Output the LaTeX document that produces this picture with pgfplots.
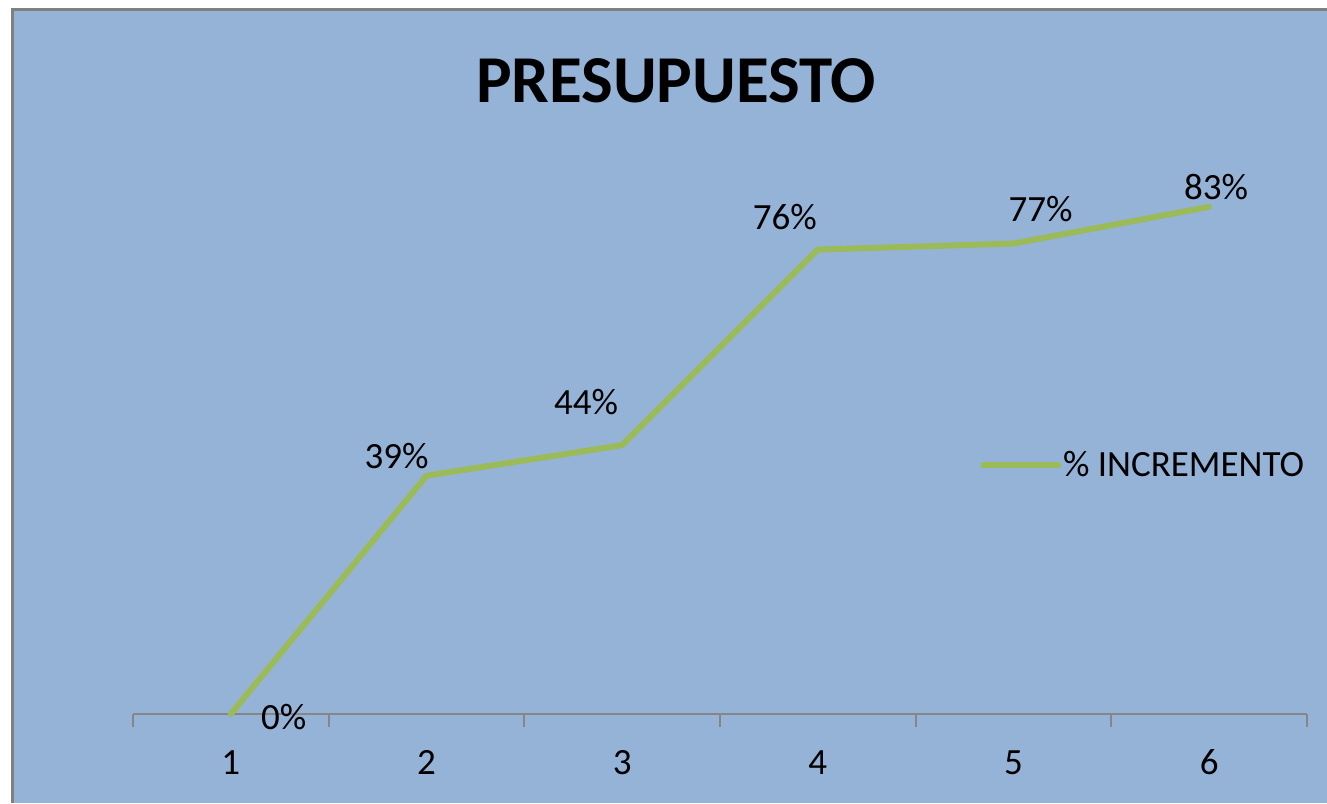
\documentclass[border=0pt]{standalone}
\usepackage{pgfplots}
\pgfplotsset{compat=1.18}
\usepackage{fontspec}
\setmainfont{Carlito}
\definecolor{bgblue}{HTML}{95B3D7}
\definecolor{lgreen}{HTML}{9BBB59}
\definecolor{axgray}{HTML}{868686}
\definecolor{frgray}{HTML}{808080}
\begin{document}
\begin{tikzpicture}
\useasboundingbox (0,0) rectangle (663.5pt,-401.5pt);
\fill[white] (0,0) rectangle (663.5pt,-401.5pt);
\fill[frgray] (5.5pt,-4pt) rectangle (663.5pt,-401.5pt);
\fill[bgblue] (7pt,-5.5pt) rectangle (663.5pt,-401.5pt);
\node[font=\fontsize{33.5}{38}\selectfont\bfseries, text=black] at (338pt,-40.5pt) {PRESUPUESTO};
\begin{axis}[
  at={(66.5pt,-357pt)}, anchor=south west,
  scale only axis, width=587pt, height=305.5pt,
  xmin=0.5, xmax=6.5, ymin=0, ymax=1,
  axis x line=bottom, axis y line=none,
  axis line style={axgray, line width=1pt, -},
  xtick={1,2,3,4,5,6}, xticklabels={1,2,3,4,5,6},
  major tick length=0pt,
  minor xtick={0.5,1.5,2.5,3.5,4.5,5.5,6.5},
  minor tick length=6.5pt, tick align=outside,
  minor tick style={axgray, line width=1pt},
  xticklabel style={font=\fontsize{18.5}{21}\selectfont, anchor=base, inner sep=0pt, yshift=-30pt},
  clip=false,
  legend style={draw=none, fill=none, at={(0.7215,0.4075)}, anchor=west, inner sep=0pt,
    font=\fontsize{18.5}{21}\selectfont, nodes={inner sep=0.8pt}},
  legend cell align=left,
  legend image code/.code={\draw[#1] (0pt,0pt) -- (37.5pt,0pt);},
]
\addplot[lgreen, line width=3pt, line cap=round] coordinates {
(1,0) (2,0.39) (3,0.44) (4,0.76) (5,0.77) (6,0.83)
};
\addlegendentry{\% INCREMENTO}
\begin{scope}[every node/.style={font=\fontsize{18.5}{21}\selectfont}]
\node at ([shift={(26.5pt,-1.5pt)}]axis cs:1,0) {0\%};
\node at ([shift={(-15pt,10pt)}]axis cs:2,0.39) {39\%};
\node at ([shift={(-18pt,21.5pt)}]axis cs:3,0.44) {44\%};
\node at ([shift={(-16.5pt,16.5pt)}]axis cs:4,0.76) {76\%};
\node at ([shift={(13.5pt,17pt)}]axis cs:5,0.77) {77\%};
\node at ([shift={(3.5pt,10pt)}]axis cs:6,0.83) {83\%};
\end{scope}
\end{axis}
\end{tikzpicture}
\end{document}
